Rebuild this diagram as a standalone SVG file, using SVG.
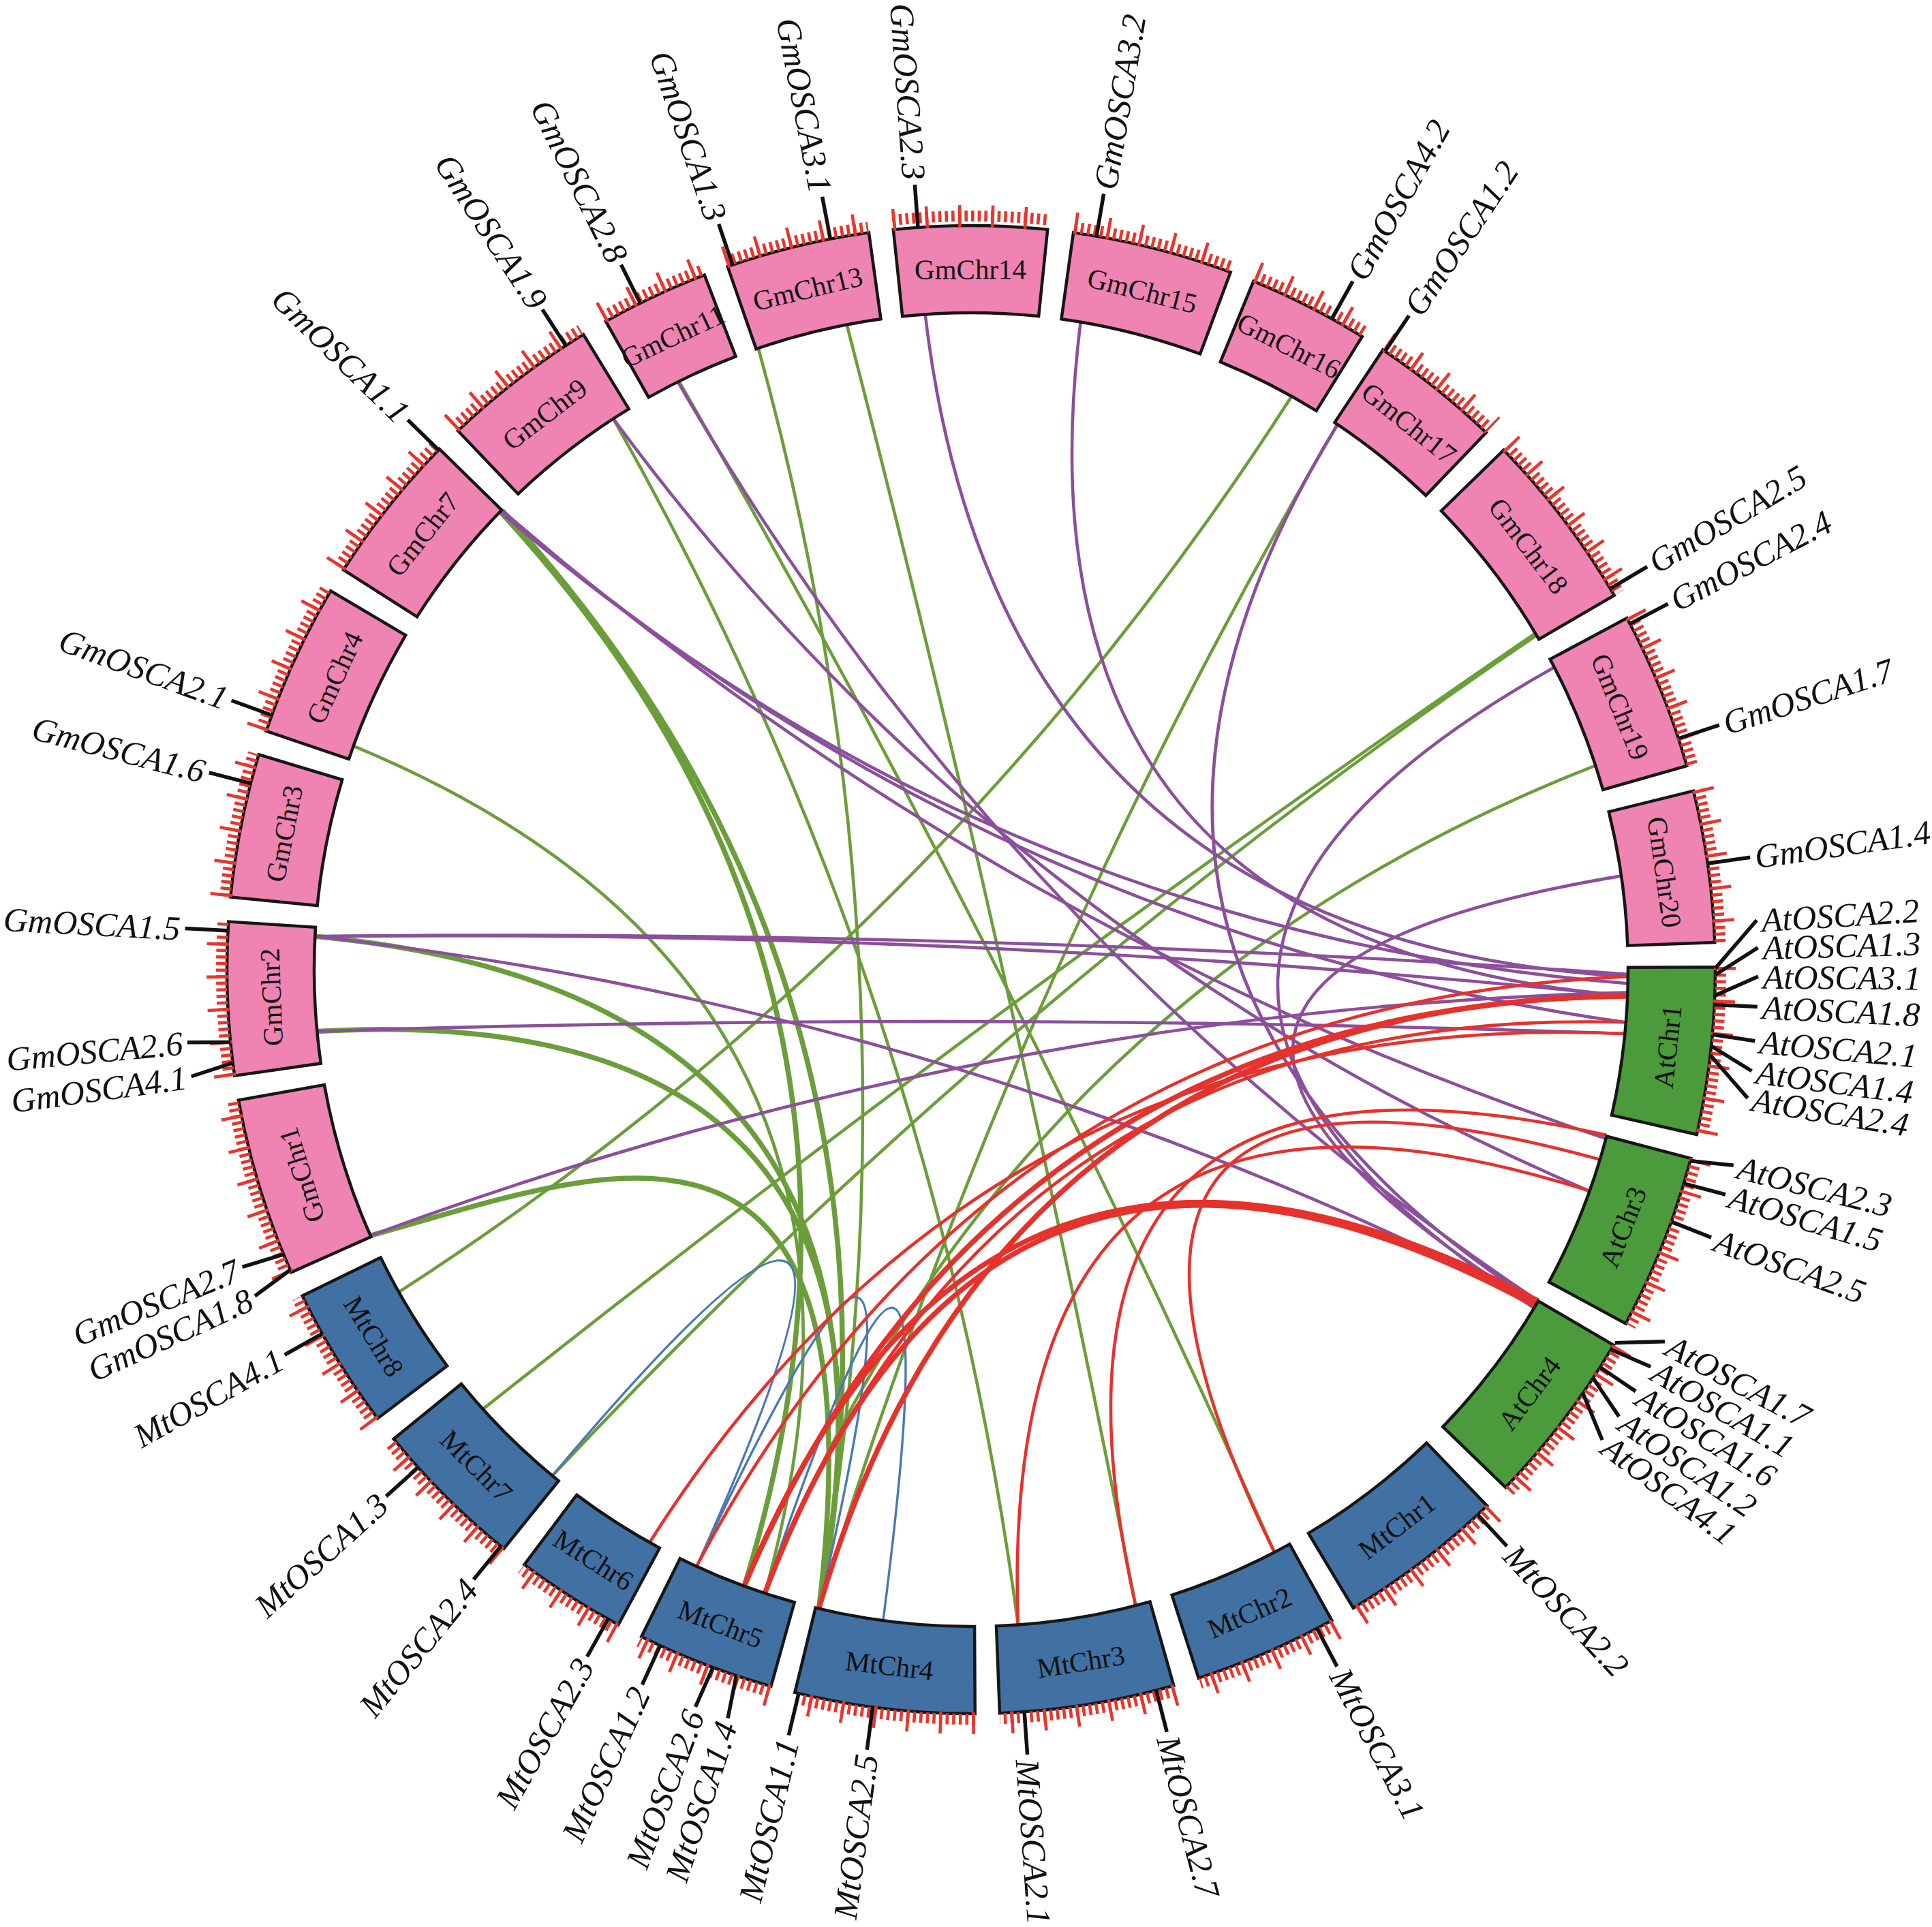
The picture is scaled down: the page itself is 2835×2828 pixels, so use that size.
<svg xmlns="http://www.w3.org/2000/svg" width="2835" height="2828" viewBox="0 0 2835 2828">
<style>
.box{stroke:#161616;stroke-width:4.5;stroke-linejoin:miter}
.gm{fill:#ef83b2}.at{fill:#4b9a3c}.mt{fill:#4170a3}
.tk1{fill:none;stroke:#e8352d;stroke-width:16;stroke-dasharray:4.6 5.05}
.tk2{fill:none;stroke:#e8352d;stroke-width:32;stroke-dasharray:4.6 43.8}
.cl{font-family:"Liberation Serif","Times New Roman",serif;font-size:41px;fill:#111;text-anchor:middle}
.gl{font-family:"Liberation Serif","Times New Roman",serif;font-style:italic;font-size:50px;fill:#111}
.gf{text-anchor:end}
.mk{stroke:#111;stroke-width:5.5}
.lk{fill:none;stroke-width:4.6}
.p{stroke:#8b4f9b}.g{stroke:#6b9e3a}.r{stroke:#e5322c}.b{stroke:#4a78b3;stroke-width:3.4}
.th{stroke-width:7.5}
</style>
<rect width="2835" height="2828" fill="#fff"/>
<g id="connectors" transform="translate(1425 1423)">
<path class="lk g" transform="rotate(314.9)" d="M-927-260.6Q0-60 927-260.6"/>
<path class="lk g" transform="rotate(143.6)" d="M-958.4-94Q0-60 958.4-94"/>
<path class="lk g" transform="rotate(139.5)" d="M-948.6-165.6Q0-60 948.6-165.6"/>
<path class="lk g" transform="rotate(135.1)" d="M-859.5-434.2Q0-60 859.5-434.2"/>
<path class="lk g" transform="rotate(113.65)" d="M-947.6-171.4Q0-60 947.6-171.4"/>
<path class="lk g" transform="rotate(267.25)" d="M-925-267.9Q0-60 925-267.9"/>
<path class="lk g" transform="rotate(77.3)" d="M-962.5-30.2Q0-60 962.5-30.2"/>
<path class="lk g" transform="rotate(251.45)" d="M-932.5-240.3Q0-60 932.5-240.3"/>
<path class="lk g" transform="rotate(63.05)" d="M-963-9.2Q0-60 963-9.2"/>
<path class="lk g th" transform="rotate(257.2)" d="M-807.6-524.5Q0-60 807.6-524.5"/>
<path class="lk g th" transform="rotate(253.9)" d="M-838.1-474.2Q0-60 838.1-474.2"/>
<path class="lk g" transform="rotate(244.1)" d="M-690.4-671.4Q0-60 690.4-671.4"/>
<path class="lk g th" transform="rotate(229)" d="M-560.6-783Q0-60 560.6-783"/>
<path class="lk g th" transform="rotate(233.15)" d="M-615.8-740.4Q0-60 615.8-740.4"/>
<path class="lk g th" d="M-880.6 390.1C-545 297-125 117-223.2 936.8"/>
<path class="lk p" transform="rotate(43.3)" d="M-707.7-653Q0-60 707.7-653"/>
<path class="lk p" transform="rotate(50.95)" d="M-636.2-722.9Q0-60 636.2-722.9"/>
<path class="lk p" transform="rotate(77.2)" d="M-660.4-700.8Q0-60 660.4-700.8"/>
<path class="lk p" transform="rotate(91.8)" d="M-469.8-840.6Q0-60 469.8-840.6"/>
<path class="lk p" transform="rotate(101.3)" d="M-321.5-907.8Q0-60 321.5-907.8"/>
<path class="lk p" transform="rotate(46.9)" d="M-922.8-275.1Q0-60 922.8-275.1"/>
<path class="lk p" transform="rotate(38.35)" d="M-912.4-307.9Q0-60 912.4-307.9"/>
<path class="lk p" transform="rotate(22.7)" d="M-896-352.9Q0-60 896-352.9"/>
<path class="lk p" transform="rotate(24.45)" d="M-905.8-327Q0-60 905.8-327"/>
<path class="lk p" transform="rotate(29.65)" d="M-931.2-245.2Q0-60 931.2-245.2"/>
<path class="lk p" transform="rotate(1.65)" d="M-962.8-21Q0-60 962.8-21"/>
<path class="lk p" transform="rotate(2.6)" d="M-963-5Q0-60 963-5"/>
<path class="lk p" transform="rotate(196.75)" d="M-935-230.5Q0-60 935-230.5"/>
<path class="lk p" transform="rotate(180.1)" d="M-958.6-92.3Q0-60 958.6-92.3"/>
<path class="lk p" transform="rotate(169.05)" d="M-938.5-215.8Q0-60 938.5-215.8"/>
<path class="lk b" transform="rotate(212.15)" d="M-124.9-954.9Q0-60 124.9-954.9"/>
<path class="lk b" transform="rotate(199.05)" d="M-94.8-958.3Q0-60 94.8-958.3"/>
<path class="lk b" transform="rotate(193)" d="M-89-958.9Q0-60 89-958.9"/>
<path class="lk r" transform="rotate(147.65)" d="M-808.1-523.8Q0-60 808.1-523.8"/>
<path class="lk r th" transform="rotate(146.25)" d="M-778.6-566.7Q0-60 778.6-566.7"/>
<path class="lk r th" transform="rotate(142.85)" d="M-743.6-611.9Q0-60 743.6-611.9"/>
<path class="lk r" transform="rotate(146.45)" d="M-757.3-594.9Q0-60 757.3-594.9"/>
<path class="lk r" transform="rotate(152.45)" d="M-806.2-526.6Q0-60 806.2-526.6"/>
<path class="lk r" transform="rotate(135.05)" d="M-488-830.3Q0-60 488-830.3"/>
<path class="lk r" transform="rotate(129.65)" d="M-373.9-887.4Q0-60 373.9-887.4"/>
<path class="lk r" transform="rotate(142.8)" d="M-525.9-806.7Q0-60 525.9-806.7"/>
<path class="lk r th" transform="rotate(160.25)" d="M-618.4-738.2Q0-60 618.4-738.2"/>
<path class="lk r th" transform="rotate(159.55)" d="M-602.7-751Q0-60 602.7-751"/>
</g>
<g id="chromosomes" transform="translate(1425 1423)">
<g id="GmChr14" transform="rotate(-0.05)"><path class="box gm" d="M-113.2-1086.12A1092 1092 0 0 1 113.2-1086.12L99.93-958.81A964 964 0 0 0-99.93-958.81Z"/><path class="tk1" d="M-114.63-1100.02A1100 1100 0 0 1 114.63-1100.02"/><path class="tk2" d="M-114.65-1100.04A1106 1106 0 0 1 114.65-1100.04"/><text class="cl" y="-1028" dy="0.35em">GmChr14</text></g>
<g id="GmChr15" transform="rotate(14.15)"><path class="box gm" d="M-118.88-1085.51A1092 1092 0 0 1 118.88-1085.51L104.95-958.27A964 964 0 0 0-104.95-958.27Z"/><path class="tk1" d="M-119.75-1093.46A1100 1100 0 0 1 119.75-1093.46"/><path class="tk2" d="M-120.41-1099.43A1106 1106 0 0 1 120.41-1099.43"/><text class="cl" y="-1028" dy="0.35em">GmChr15</text></g>
<g id="GmChr16" transform="rotate(27)"><path class="box gm" d="M-89.48-1088.33A1092 1092 0 0 1 89.48-1088.33L78.99-960.76A964 964 0 0 0-78.99-960.76Z"/><path class="tk1" d="M-90.13-1096.3A1100 1100 0 0 1 90.13-1096.3"/><path class="tk2" d="M-90.62-1102.28A1106 1106 0 0 1 90.62-1102.28"/><text class="cl" y="-1028" dy="0.35em">GmChr16</text></g>
<g id="GmChr17" transform="rotate(38.7)"><path class="box gm" d="M-97.07-1087.68A1092 1092 0 0 1 97.07-1087.68L85.69-960.18A964 964 0 0 0-85.69-960.18Z"/><path class="tk1" d="M-97.78-1095.65A1100 1100 0 0 1 97.78-1095.65"/><path class="tk2" d="M-98.32-1101.62A1106 1106 0 0 1 98.32-1101.62"/><text class="cl" y="-1028" dy="0.35em">GmChr17</text></g>
<g id="GmChr18" transform="rotate(52.75)"><path class="box gm" d="M-134.03-1083.74A1092 1092 0 0 1 134.03-1083.74L118.32-956.71A964 964 0 0 0-118.32-956.71Z"/><path class="tk1" d="M-135.01-1091.68A1100 1100 0 0 1 135.01-1091.68"/><path class="tk2" d="M-135.75-1097.64A1106 1106 0 0 1 135.75-1097.64"/><text class="cl" y="-1028" dy="0.35em">GmChr18</text></g>
<g id="GmChr19" transform="rotate(67.95)"><path class="box gm" d="M-116.99-1085.72A1092 1092 0 0 1 116.99-1085.72L103.28-958.45A964 964 0 0 0-103.28-958.45Z"/><path class="tk1" d="M-117.85-1093.67A1100 1100 0 0 1 117.85-1093.67"/><path class="tk2" d="M-118.49-1099.64A1106 1106 0 0 1 118.49-1099.64"/><text class="cl" y="-1028" dy="0.35em">GmChr19</text></g>
<g id="GmChr20" transform="rotate(82)"><path class="box gm" d="M-112.25-1086.22A1092 1092 0 0 1 112.25-1086.22L99.09-958.89A964 964 0 0 0-99.09-958.89Z"/><path class="tk1" d="M-113.07-1094.17A1100 1100 0 0 1 113.07-1094.17"/><path class="tk2" d="M-113.69-1100.14A1106 1106 0 0 1 113.69-1100.14"/><text class="cl" y="-1028" dy="0.35em">GmChr20</text></g>
<g id="AtChr1" transform="rotate(96.3)"><path class="box at" d="M-123.62-1084.98A1092 1092 0 0 1 123.62-1084.98L109.13-957.8A964 964 0 0 0-109.13-957.8Z"/><path class="tk1" d="M-124.52-1092.93A1100 1100 0 0 1 124.52-1092.93"/><path class="tk2" d="M-125.2-1098.89A1106 1106 0 0 1 125.2-1098.89"/><text class="cl" transform="translate(0 -1028) rotate(180)" dy="0.35em">AtChr1</text></g>
<g id="AtChr3" transform="rotate(111.55)"><path class="box at" d="M-130.24-1084.21A1092 1092 0 0 1 130.24-1084.21L114.98-957.12A964 964 0 0 0-114.98-957.12Z"/><path class="tk1" d="M-131.2-1092.15A1100 1100 0 0 1 131.2-1092.15"/><path class="tk2" d="M-131.91-1098.11A1106 1106 0 0 1 131.91-1098.11"/><text class="cl" transform="translate(0 -1028) rotate(180)" dy="0.35em">AtChr3</text></g>
<g id="AtChr4" transform="rotate(127.2)"><path class="box at" d="M-131.19-1084.09A1092 1092 0 0 1 131.19-1084.09L115.81-957.02A964 964 0 0 0-115.81-957.02Z"/><path class="tk1" d="M-132.15-1092.03A1100 1100 0 0 1 132.15-1092.03"/><path class="tk2" d="M-132.87-1097.99A1106 1106 0 0 1 132.87-1097.99"/><text class="cl" transform="translate(0 -1028) rotate(180)" dy="0.35em">AtChr4</text></g>
<g id="MtChr1" transform="rotate(142.6)"><path class="box mt" d="M-123.62-1084.98A1092 1092 0 0 1 123.62-1084.98L109.13-957.8A964 964 0 0 0-109.13-957.8Z"/><path class="tk1" d="M-124.52-1092.93A1100 1100 0 0 1 124.52-1092.93"/><path class="tk2" d="M-125.2-1098.89A1106 1106 0 0 1 125.2-1098.89"/><text class="cl" transform="translate(0 -1028) rotate(180)" dy="0.35em">MtChr1</text></g>
<g id="MtChr2" transform="rotate(156.6)"><path class="box mt" d="M-106.56-1086.79A1092 1092 0 0 1 106.56-1086.79L94.07-959.4A964 964 0 0 0-94.07-959.4Z"/><path class="tk1" d="M-107.34-1094.75A1100 1100 0 0 1 107.34-1094.75"/><path class="tk2" d="M-107.93-1100.72A1106 1106 0 0 1 107.93-1100.72"/><text class="cl" transform="translate(0 -1028) rotate(180)" dy="0.35em">MtChr2</text></g>
<g id="MtChr3" transform="rotate(171)"><path class="box mt" d="M-129.3-1084.32A1092 1092 0 0 1 129.3-1084.32L114.14-957.22A964 964 0 0 0-114.14-957.22Z"/><path class="tk1" d="M-130.24-1092.26A1100 1100 0 0 1 130.24-1092.26"/><path class="tk2" d="M-130.95-1098.22A1106 1106 0 0 1 130.95-1098.22"/><text class="cl" transform="translate(0 -1028) rotate(180)" dy="0.35em">MtChr3</text></g>
<g id="MtChr4" transform="rotate(186.7)"><path class="box mt" d="M-133.08-1083.86A1092 1092 0 0 1 133.08-1083.86L117.48-956.81A964 964 0 0 0-117.48-956.81Z"/><path class="tk1" d="M-134.06-1091.8A1100 1100 0 0 1 134.06-1091.8"/><path class="tk2" d="M-134.79-1097.76A1106 1106 0 0 1 134.79-1097.76"/><text class="cl" transform="translate(0 -1028) rotate(180)" dy="0.35em">MtChr4</text></g>
<g id="MtChr5" transform="rotate(200.95)"><path class="box mt" d="M-101.82-1087.24A1092 1092 0 0 1 101.82-1087.24L89.88-959.8A964 964 0 0 0-89.88-959.8Z"/><path class="tk1" d="M-102.56-1095.21A1100 1100 0 0 1 102.56-1095.21"/><path class="tk2" d="M-103.12-1101.18A1106 1106 0 0 1 103.12-1101.18"/><text class="cl" transform="translate(0 -1028) rotate(180)" dy="0.35em">MtChr5</text></g>
<g id="MtChr6" transform="rotate(212.6)"><path class="box mt" d="M-81.88-1088.93A1092 1092 0 0 1 81.88-1088.93L72.28-961.29A964 964 0 0 0-72.28-961.29Z"/><path class="tk1" d="M-82.48-1096.9A1100 1100 0 0 1 82.48-1096.9"/><path class="tk2" d="M-82.93-1102.89A1106 1106 0 0 1 82.93-1102.89"/><text class="cl" transform="translate(0 -1028) rotate(180)" dy="0.35em">MtChr6</text></g>
<g id="MtChr7" transform="rotate(224.9)"><path class="box mt" d="M-114.14-1086.02A1092 1092 0 0 1 114.14-1086.02L100.76-958.72A964 964 0 0 0-100.76-958.72Z"/><path class="tk1" d="M-114.98-1093.97A1100 1100 0 0 1 114.98-1093.97"/><path class="tk2" d="M-115.61-1099.94A1106 1106 0 0 1 115.61-1099.94"/><text class="cl" transform="translate(0 -1028) rotate(180)" dy="0.35em">MtChr7</text></g>
<g id="MtChr8" transform="rotate(238.45)"><path class="box mt" d="M-105.61-1086.88A1092 1092 0 0 1 105.61-1086.88L93.23-959.48A964 964 0 0 0-93.23-959.48Z"/><path class="tk1" d="M-106.39-1094.84A1100 1100 0 0 1 106.39-1094.84"/><path class="tk2" d="M-106.97-1100.82A1106 1106 0 0 1 106.97-1100.82"/><text class="cl" transform="translate(0 -1028) rotate(180)" dy="0.35em">MtChr8</text></g>
<g id="GmChr1" transform="rotate(252.95)"><path class="box gm" d="M-132.14-1083.98A1092 1092 0 0 1 132.14-1083.98L116.65-956.92A964 964 0 0 0-116.65-956.92Z"/><path class="tk1" d="M-133.1-1091.92A1100 1100 0 0 1 133.1-1091.92"/><path class="tk2" d="M-133.83-1097.87A1106 1106 0 0 1 133.83-1097.87"/><text class="cl" y="-1028" dy="0.35em">GmChr1</text></g>
<g id="GmChr2" transform="rotate(267.75)"><path class="box gm" d="M-113.2-1086.12A1092 1092 0 0 1 113.2-1086.12L99.93-958.81A964 964 0 0 0-99.93-958.81Z"/><path class="tk1" d="M-114.03-1094.07A1100 1100 0 0 1 114.03-1094.07"/><path class="tk2" d="M-114.65-1100.04A1106 1106 0 0 1 114.65-1100.04"/><text class="cl" y="-1028" dy="0.35em">GmChr2</text></g>
<g id="GmChr3" transform="rotate(281.2)"><path class="box gm" d="M-106.56-1086.79A1092 1092 0 0 1 106.56-1086.79L94.07-959.4A964 964 0 0 0-94.07-959.4Z"/><path class="tk1" d="M-107.34-1094.75A1100 1100 0 0 1 107.34-1094.75"/><path class="tk2" d="M-107.93-1100.72A1106 1106 0 0 1 107.93-1100.72"/><text class="cl" y="-1028" dy="0.35em">GmChr3</text></g>
<g id="GmChr4" transform="rotate(294.65)"><path class="box gm" d="M-113.2-1086.12A1092 1092 0 0 1 113.2-1086.12L99.93-958.81A964 964 0 0 0-99.93-958.81Z"/><path class="tk1" d="M-114.03-1094.07A1100 1100 0 0 1 114.03-1094.07"/><path class="tk2" d="M-114.65-1100.04A1106 1106 0 0 1 114.65-1100.04"/><text class="cl" y="-1028" dy="0.35em">GmChr4</text></g>
<g id="GmChr7" transform="rotate(308.45)"><path class="box gm" d="M-113.2-1086.12A1092 1092 0 0 1 113.2-1086.12L99.93-958.81A964 964 0 0 0-99.93-958.81Z"/><path class="tk1" d="M-114.03-1094.07A1100 1100 0 0 1 114.03-1094.07"/><path class="tk2" d="M-114.65-1100.04A1106 1106 0 0 1 114.65-1100.04"/><text class="cl" y="-1028" dy="0.35em">GmChr7</text></g>
<g id="GmChr9" transform="rotate(322.5)"><path class="box gm" d="M-116.04-1085.82A1092 1092 0 0 1 116.04-1085.82L102.44-958.54A964 964 0 0 0-102.44-958.54Z"/><path class="tk1" d="M-116.89-1093.77A1100 1100 0 0 1 116.89-1093.77"/><path class="tk2" d="M-117.53-1099.74A1106 1106 0 0 1 117.53-1099.74"/><text class="cl" y="-1028" dy="0.35em">GmChr9</text></g>
<g id="GmChr11" transform="rotate(334.8)"><path class="box gm" d="M-79.98-1089.07A1092 1092 0 0 1 79.98-1089.07L70.6-961.41A964 964 0 0 0-70.6-961.41Z"/><path class="tk1" d="M-80.56-1097.05A1100 1100 0 0 1 80.56-1097.05"/><path class="tk2" d="M-81-1103.03A1106 1106 0 0 1 81-1103.03"/><text class="cl" y="-1028" dy="0.35em">GmChr11</text></g>
<g id="GmChr13" transform="rotate(346.5)"><path class="box gm" d="M-106.56-1086.79A1092 1092 0 0 1 106.56-1086.79L94.07-959.4A964 964 0 0 0-94.07-959.4Z"/><path class="tk1" d="M-107.34-1094.75A1100 1100 0 0 1 107.34-1094.75"/><path class="tk2" d="M-107.93-1100.72A1106 1106 0 0 1 107.93-1100.72"/><text class="cl" y="-1028" dy="0.35em">GmChr13</text></g>
</g>
<g id="genes" transform="translate(1425 1423)">
<g transform="rotate(9.7)"><line class="mk" x1="0" y1="-1092" x2="0" y2="-1155"/><text class="gl" transform="translate(0 -1162) rotate(-90)" dy="0.35em">GmOSCA3.2</text></g>
<g transform="rotate(29)"><line class="mk" x1="0" y1="-1092" x2="0" y2="-1155"/><text class="gl" transform="translate(0 -1162) rotate(-90)" dy="0.35em">GmOSCA4.2</text></g>
<g transform="rotate(33.8)"><line class="mk" x1="0" y1="-1092" x2="0" y2="-1155"/><text class="gl" transform="translate(0 -1162) rotate(-90)" dy="0.35em">GmOSCA1.2</text></g>
<g transform="rotate(59.2)"><line class="mk" x1="0" y1="-1092" x2="0" y2="-1155"/><text class="gl" transform="translate(0 -1162) rotate(-90)" dy="0.35em">GmOSCA2.5</text></g>
<g transform="rotate(62.3)"><line class="mk" x1="0" y1="-1092" x2="0" y2="-1155"/><text class="gl" transform="translate(0 -1162) rotate(-90)" dy="0.35em">GmOSCA2.4</text></g>
<g transform="rotate(71.9)"><line class="mk" x1="0" y1="-1092" x2="0" y2="-1155"/><text class="gl" transform="translate(0 -1162) rotate(-90)" dy="0.35em">GmOSCA1.7</text></g>
<g transform="rotate(81.8)"><line class="mk" x1="0" y1="-1092" x2="0" y2="-1155"/><text class="gl" transform="translate(0 -1162) rotate(-90)" dy="0.35em">GmOSCA1.4</text></g>
<g transform="rotate(86.4)"><line class="mk" x1="66.67" y1="-1089.96" x2="0" y2="-1155"/><text class="gl" transform="translate(0 -1162) rotate(-90)" dy="0.35em">AtOSCA2.2</text></g>
<g transform="rotate(88.4)"><line class="mk" x1="38.11" y1="-1091.34" x2="0" y2="-1155"/><text class="gl" transform="translate(0 -1162) rotate(-90)" dy="0.35em">AtOSCA1.3</text></g>
<g transform="rotate(90.5)"><line class="mk" x1="28.59" y1="-1091.63" x2="0" y2="-1155"/><text class="gl" transform="translate(0 -1162) rotate(-90)" dy="0.35em">AtOSCA3.1</text></g>
<g transform="rotate(92.7)"><line class="mk" x1="0" y1="-1092" x2="0" y2="-1155"/><text class="gl" transform="translate(0 -1162) rotate(-90)" dy="0.35em">AtOSCA1.8</text></g>
<g transform="rotate(95.2)"><line class="mk" x1="-3.81" y1="-1091.99" x2="0" y2="-1155"/><text class="gl" transform="translate(0 -1162) rotate(-90)" dy="0.35em">AtOSCA2.1</text></g>
<g transform="rotate(97.4)"><line class="mk" x1="-28.59" y1="-1091.63" x2="0" y2="-1155"/><text class="gl" transform="translate(0 -1162) rotate(-90)" dy="0.35em">AtOSCA1.4</text></g>
<g transform="rotate(99.4)"><line class="mk" x1="-53.35" y1="-1090.7" x2="0" y2="-1155"/><text class="gl" transform="translate(0 -1162) rotate(-90)" dy="0.35em">AtOSCA2.4</text></g>
<g transform="rotate(104.4)"><line class="mk" x1="9.53" y1="-1091.96" x2="0" y2="-1155"/><text class="gl" transform="translate(0 -1162) rotate(-90)" dy="0.35em">AtOSCA2.3</text></g>
<g transform="rotate(106.6)"><line class="mk" x1="1.91" y1="-1092" x2="0" y2="-1155"/><text class="gl" transform="translate(0 -1162) rotate(-90)" dy="0.35em">AtOSCA1.5</text></g>
<g transform="rotate(109.9)"><line class="mk" x1="-1.91" y1="-1092" x2="0" y2="-1155"/><text class="gl" transform="translate(0 -1162) rotate(-90)" dy="0.35em">AtOSCA2.5</text></g>
<g transform="rotate(118.2)"><line class="mk" x1="36.21" y1="-1091.4" x2="0" y2="-1155"/><text class="gl" transform="translate(0 -1162) rotate(-90)" dy="0.35em">AtOSCA1.7</text></g>
<g transform="rotate(120.3)"><line class="mk" x1="7.62" y1="-1091.97" x2="0" y2="-1155"/><text class="gl" transform="translate(0 -1162) rotate(-90)" dy="0.35em">AtOSCA1.1</text></g>
<g transform="rotate(122.4)"><line class="mk" x1="-1.91" y1="-1092" x2="0" y2="-1155"/><text class="gl" transform="translate(0 -1162) rotate(-90)" dy="0.35em">AtOSCA1.6</text></g>
<g transform="rotate(124.6)"><line class="mk" x1="-24.78" y1="-1091.72" x2="0" y2="-1155"/><text class="gl" transform="translate(0 -1162) rotate(-90)" dy="0.35em">AtOSCA1.2</text></g>
<g transform="rotate(126.7)"><line class="mk" x1="-38.11" y1="-1091.34" x2="0" y2="-1155"/><text class="gl" transform="translate(0 -1162) rotate(-90)" dy="0.35em">AtOSCA4.1</text></g>
<g transform="rotate(137.1)"><line class="mk" x1="0" y1="-1092" x2="0" y2="-1155"/><text class="gl" transform="translate(0 -1162) rotate(-90)" dy="0.35em">MtOSCA2.2</text></g>
<g transform="rotate(152.3)"><line class="mk" x1="0" y1="-1092" x2="0" y2="-1155"/><text class="gl" transform="translate(0 -1162) rotate(-90)" dy="0.35em">MtOSCA3.1</text></g>
<g transform="rotate(165.6)"><line class="mk" x1="0" y1="-1092" x2="0" y2="-1155"/><text class="gl" transform="translate(0 -1162) rotate(-90)" dy="0.35em">MtOSCA2.7</text></g>
<g transform="rotate(175.9)"><line class="mk" x1="0" y1="-1092" x2="0" y2="-1155"/><text class="gl" transform="translate(0 -1162) rotate(-90)" dy="0.35em">MtOSCA2.1</text></g>
<g transform="rotate(187.6)"><line class="mk" x1="0" y1="-1092" x2="0" y2="-1155"/><text class="gl gf" transform="translate(0 -1162) rotate(90)" dy="0.35em">MtOSCA2.5</text></g>
<g transform="rotate(193.4)"><line class="mk" x1="0" y1="-1092" x2="0" y2="-1155"/><text class="gl gf" transform="translate(0 -1162) rotate(90)" dy="0.35em">MtOSCA1.1</text></g>
<g transform="rotate(198)"><line class="mk" x1="7.62" y1="-1091.97" x2="0" y2="-1155"/><text class="gl gf" transform="translate(0 -1162) rotate(90)" dy="0.35em">MtOSCA1.4</text></g>
<g transform="rotate(200.5)"><line class="mk" x1="-3.81" y1="-1091.99" x2="0" y2="-1155"/><text class="gl gf" transform="translate(0 -1162) rotate(90)" dy="0.35em">MtOSCA2.6</text></g>
<g transform="rotate(204.7)"><line class="mk" x1="0" y1="-1092" x2="0" y2="-1155"/><text class="gl gf" transform="translate(0 -1162) rotate(90)" dy="0.35em">MtOSCA1.2</text></g>
<g transform="rotate(209.2)"><line class="mk" x1="0" y1="-1092" x2="0" y2="-1155"/><text class="gl gf" transform="translate(0 -1162) rotate(90)" dy="0.35em">MtOSCA2.3</text></g>
<g transform="rotate(219.2)"><line class="mk" x1="0" y1="-1092" x2="0" y2="-1155"/><text class="gl gf" transform="translate(0 -1162) rotate(90)" dy="0.35em">MtOSCA2.4</text></g>
<g transform="rotate(228)"><line class="mk" x1="0" y1="-1092" x2="0" y2="-1155"/><text class="gl gf" transform="translate(0 -1162) rotate(90)" dy="0.35em">MtOSCA1.3</text></g>
<g transform="rotate(240.7)"><line class="mk" x1="0" y1="-1092" x2="0" y2="-1155"/><text class="gl gf" transform="translate(0 -1162) rotate(90)" dy="0.35em">MtOSCA4.1</text></g>
<g transform="rotate(245.5)"><line class="mk" x1="13.34" y1="-1091.92" x2="0" y2="-1155"/><text class="gl gf" transform="translate(0 -1162) rotate(90)" dy="0.35em">GmOSCA1.8</text></g>
<g transform="rotate(247.8)"><line class="mk" x1="-5.72" y1="-1091.99" x2="0" y2="-1155"/><text class="gl gf" transform="translate(0 -1162) rotate(90)" dy="0.35em">GmOSCA2.7</text></g>
<g transform="rotate(262.2)"><line class="mk" x1="11.43" y1="-1091.94" x2="0" y2="-1155"/><text class="gl gf" transform="translate(0 -1162) rotate(90)" dy="0.35em">GmOSCA4.1</text></g>
<g transform="rotate(264.7)"><line class="mk" x1="-5.72" y1="-1091.99" x2="0" y2="-1155"/><text class="gl gf" transform="translate(0 -1162) rotate(90)" dy="0.35em">GmOSCA2.6</text></g>
<g transform="rotate(273)"><line class="mk" x1="0" y1="-1092" x2="0" y2="-1155"/><text class="gl gf" transform="translate(0 -1162) rotate(90)" dy="0.35em">GmOSCA1.5</text></g>
<g transform="rotate(284.5)"><line class="mk" x1="0" y1="-1092" x2="0" y2="-1155"/><text class="gl gf" transform="translate(0 -1162) rotate(90)" dy="0.35em">GmOSCA1.6</text></g>
<g transform="rotate(290)"><line class="mk" x1="0" y1="-1092" x2="0" y2="-1155"/><text class="gl gf" transform="translate(0 -1162) rotate(90)" dy="0.35em">GmOSCA2.1</text></g>
<g transform="rotate(314.3)"><line class="mk" x1="0" y1="-1092" x2="0" y2="-1155"/><text class="gl gf" transform="translate(0 -1162) rotate(90)" dy="0.35em">GmOSCA1.1</text></g>
<g transform="rotate(327)"><line class="mk" x1="0" y1="-1092" x2="0" y2="-1155"/><text class="gl gf" transform="translate(0 -1162) rotate(90)" dy="0.35em">GmOSCA1.9</text></g>
<g transform="rotate(333.6)"><line class="mk" x1="0" y1="-1092" x2="0" y2="-1155"/><text class="gl gf" transform="translate(0 -1162) rotate(90)" dy="0.35em">GmOSCA2.8</text></g>
<g transform="rotate(341.3)"><line class="mk" x1="0" y1="-1092" x2="0" y2="-1155"/><text class="gl gf" transform="translate(0 -1162) rotate(90)" dy="0.35em">GmOSCA1.3</text></g>
<g transform="rotate(349.1)"><line class="mk" x1="0" y1="-1092" x2="0" y2="-1155"/><text class="gl gf" transform="translate(0 -1162) rotate(90)" dy="0.35em">GmOSCA3.1</text></g>
<g transform="rotate(355.9)"><line class="mk" x1="0" y1="-1092" x2="0" y2="-1155"/><text class="gl gf" transform="translate(0 -1162) rotate(90)" dy="0.35em">GmOSCA2.3</text></g>
</g>
</svg>
